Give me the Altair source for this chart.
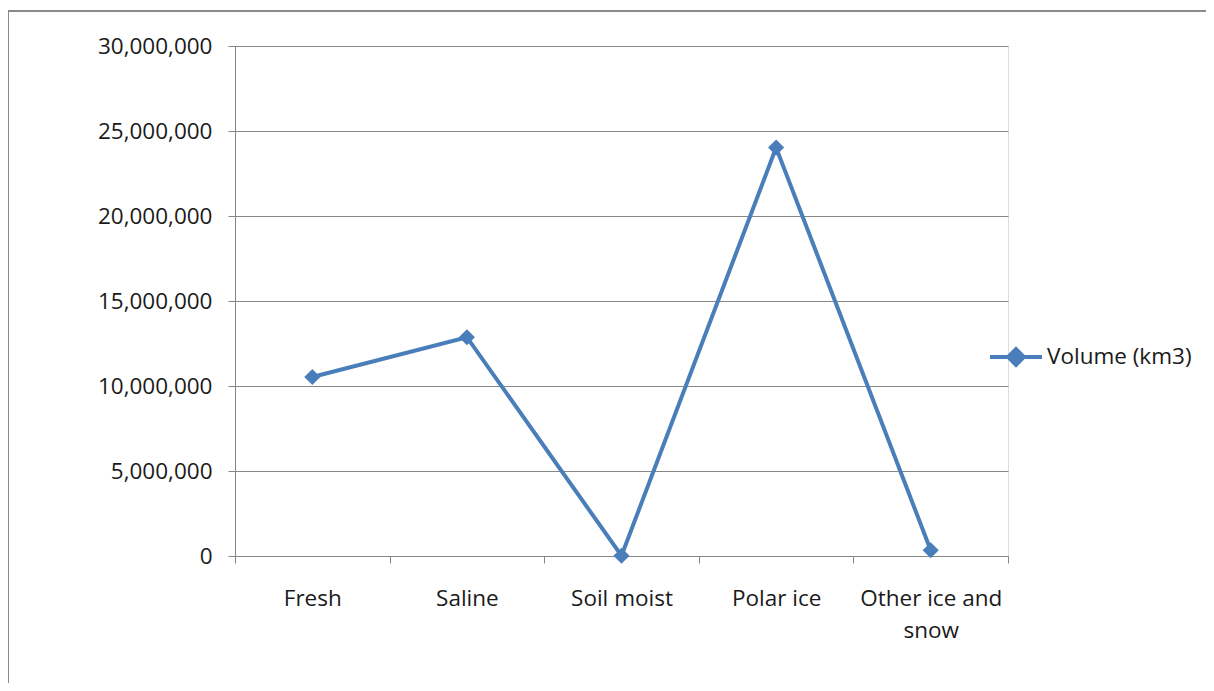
import altair as alt
import pandas as pd

categories = ["Fresh", "Saline", "Soil moist", "Polar ice", "Other ice and snow"]
volumes = [10530000, 12870000, 16500, 24023500, 340600]
series_name = "Volume (km3)"
y_ticks = [0, 5000000, 10000000, 15000000, 20000000, 25000000, 30000000]

df = pd.DataFrame({"cat": categories, "vol": volumes, "series": [series_name] * len(categories)})

FONT = "Open Sans"
FS = 22.5
BLUE = "#4A7EBB"
GRID = "#878787"
TXT = "#1a1a1a"

x_enc = alt.X(
    "cat:N", sort=categories, title=None,
    scale=alt.Scale(paddingInner=0, paddingOuter=0),
    axis=alt.Axis(
        labelAngle=0, tickBand="extent", tickSize=7, tickColor=GRID, domainColor=GRID,
        labelPadding=24, labelFontSize=FS, labelFont=FONT, labelColor=TXT,
        labelLineHeight=32, labelLimit=400, labelOverlap=False,
        labelExpr="datum.value == 'Other ice and snow' ? ['Other ice and', 'snow'] : datum.value",
    ),
)
y_enc = alt.Y(
    "vol:Q", title=None,
    scale=alt.Scale(domain=[0, 30000000], nice=False),
    axis=alt.Axis(
        values=y_ticks, format=",.0f", formatType="number", grid=True, gridColor=GRID,
        tickSize=7, tickColor=GRID, domainColor=GRID, labelPadding=16,
        labelFontSize=FS, labelFont=FONT, labelColor=TXT,
    ),
)

legend_path = "M-1,0H1M-0.3,0L0,-0.3L0.3,0L0,0.3Z"

line = alt.Chart(df).mark_line(strokeWidth=4).encode(
    x=x_enc, y=y_enc,
    color=alt.Color("series:N", scale=alt.Scale(range=[BLUE]), legend=alt.Legend(
        title=None, orient="none", legendX=753, legendY=283, padding=0,
        symbolType=legend_path, symbolSize=2704, symbolStrokeWidth=4,
        symbolFillColor=BLUE, symbolStrokeColor=BLUE, labelOffset=3,
        labelFont=FONT, labelFontSize=FS, labelColor=TXT,
    )),
)
points = alt.Chart(df).mark_point(shape="diamond", filled=True, size=260, opacity=1, color=BLUE).encode(
    x=x_enc, y=y_enc,
)

border = alt.Chart(pd.DataFrame({"a": [0]})).mark_rect(
    fillOpacity=0, stroke="#8a8a8a", strokeWidth=2
).encode(x=alt.value(-227), x2=alt.value(977), y=alt.value(-35), y2=alt.value(700))

chart = alt.layer(border, line, points).properties(
    width=773, height=510,
    padding={"left": 227, "top": 38, "right": 198, "bottom": 127},
    autosize=alt.AutoSizeParams(type="none"),
).configure_view(stroke=None).configure(background="white")

chart.save("out.html", embed_options={"renderer": "svg", "actions": False})
